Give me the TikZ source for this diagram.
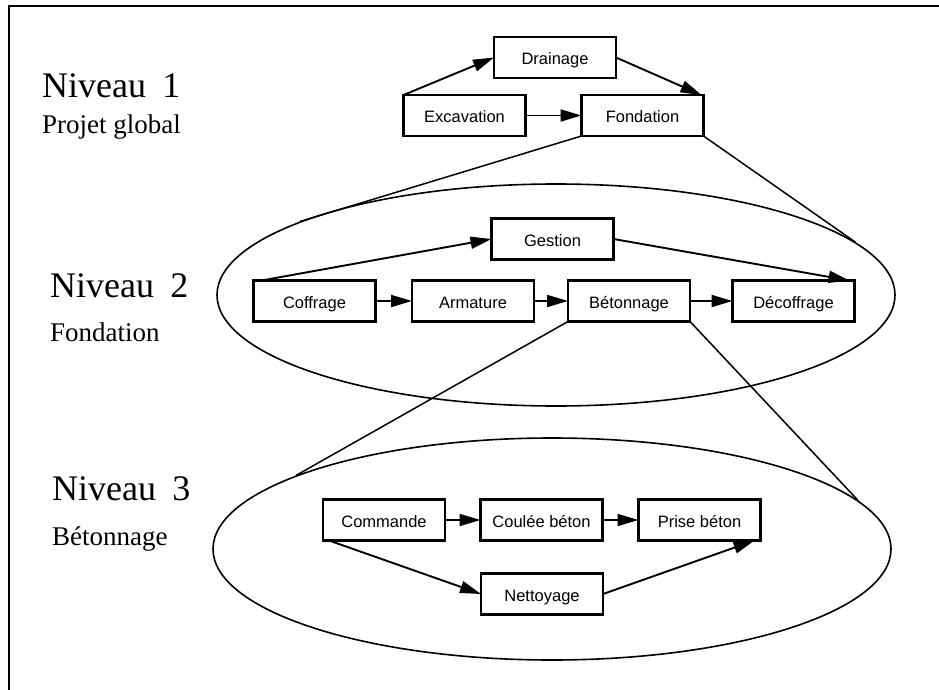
\documentclass[tikz,border=0pt]{standalone}
\usepackage{fontspec}
\setmainfont{Liberation Serif}
\newfontfamily\boxfont{Liberation Sans}
\usetikzlibrary{arrows.meta,shapes.geometric}

\tikzset{
  task/.style={draw, line width=2.2pt, inner sep=0pt, outer sep=0pt,
    minimum width=122pt, minimum height=41pt,
    text height=16pt, text depth=1pt,
    font=\boxfont\fontsize{16.5}{19}\selectfont},
  flow/.style={line width=1.9pt, -{Triangle[length=21pt,width=12pt]}},
  zoomline/.style={line width=1.5pt},
  levelzone/.style={draw, ellipse, line width=1.6pt, inner sep=0pt,
    minimum width=678pt, minimum height=222pt},
  lvltitle/.style={anchor=base west, inner sep=0pt,
    font=\fontsize{36}{40}\selectfont},
  lvlname/.style={anchor=base west, inner sep=0pt,
    font=\fontsize{27}{30}\selectfont}
}

\begin{document}
\begin{tikzpicture}[x=1pt, y=-1pt]
\useasboundingbox (0,0) rectangle (939,690);

% frame
\draw[line width=2.2pt] (9,690) -- (9,6) -- (939,6);

% level titles
\node[lvltitle] (t1) at (42,98) {Niveau\hspace{0.45em}1};
\node[lvlname]  (n1) at (42,133) {Projet global};
\node[lvltitle] (t2) at (50,297) {Niveau\hspace{0.45em}2};
\node[lvlname]  (n2) at (50,341) {Fondation};
\node[lvltitle] (t3) at (52,500) {Niveau\hspace{0.45em}3};
\node[lvlname]  (n3) at (52,545) {Bétonnage};

% zones of levels 2 and 3
\node[levelzone] (z2) at (556,295) {};
\node[levelzone] (z3) at (552,549) {};

% level 1
\node[task] (drain) at (555,57.5)  {Drainage};
\node[task] (exc)   at (464.5,115.5) {Excavation};
\node[task] (fond)  at (642.5,115.5) {Fondation};

\draw[flow] (exc.north west) -- (drain.west);
\draw[flow] (drain.east) -- ([xshift=-2pt]fond.north east);
\draw[flow] (exc.east) -- (fond.west);

% level 2
\node[task] (gest)  at (552.5,239) {Gestion};
\node[task] (cof)   at (314.5,301) {Coffrage};
\node[task] (arm)   at (473,301)   {Armature};
\node[task] (bet)   at (629,301)   {Bétonnage};
\node[task] (decof) at (793.5,301) {Décoffrage};

\draw[flow] ([xshift=8pt]cof.north west) -- (gest.west);
\draw[flow] (gest.east) -- ([xshift=-5pt]decof.north east);
\draw[flow] (cof.east) -- (arm.west);
\draw[flow] (arm.east) -- (bet.west);
\draw[flow] (bet.east) -- (decof.west);

% level 3
\node[task] (cmd)   at (384,520)   {Commande};
\node[task] (coul)  at (541.5,520) {Coulée béton};
\node[task] (prise) at (699.5,520) {Prise béton};
\node[task] (net)   at (542,594)   {Nettoyage};

\draw[flow] (cmd.east) -- (coul.west);
\draw[flow] (coul.east) -- (prise.west);
\draw[flow] ([xshift=6pt]cmd.south west) -- (net.west);
\draw[flow] (net.east) -- ([xshift=-6pt]prise.south east);

% expansion lines between levels
\draw[zoomline] (fond.south west) -- (z2.164.3);
\draw[zoomline] (fond.south east) -- (z2.10.4);
\draw[zoomline] (bet.south west) -- (z3.164.1);
\draw[zoomline] (bet.south east) -- (z3.9.5);
\end{tikzpicture}
\end{document}
